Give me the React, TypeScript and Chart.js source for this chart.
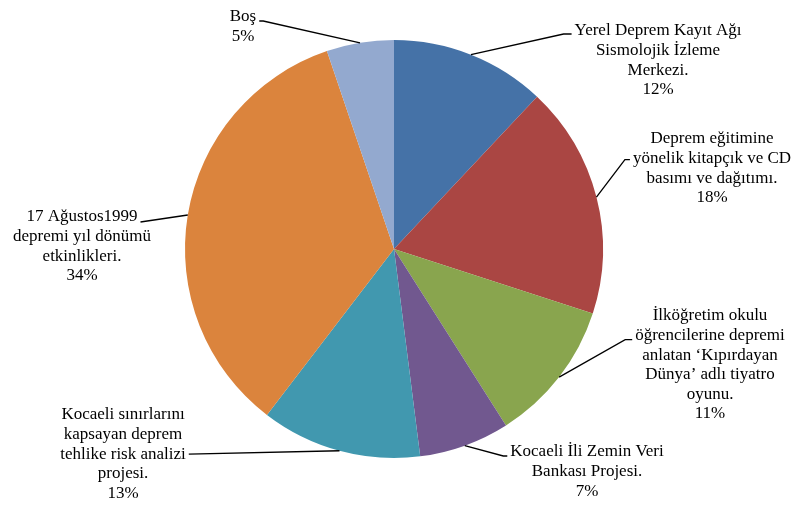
import React, { useEffect, useRef } from "react";
import { Chart, registerables } from "chart.js";

Chart.register(...registerables);

const categories: string[][] = [
  ["Yerel Deprem Kayıt Ağı", "Sismolojik İzleme", "Merkezi."],
  ["Deprem eğitimine", "yönelik kitapçık ve CD", "basımı ve dağıtımı."],
  ["İlköğretim okulu", "öğrencilerine depremi", "anlatan ‘Kıpırdayan", "Dünya’ adlı tiyatro", "oyunu."],
  ["Kocaeli İli Zemin Veri", "Bankası Projesi."],
  ["Kocaeli sınırlarını", "kapsayan deprem", "tehlike risk analizi", "projesi."],
  ["17 Ağustos1999", "depremi yıl dönümü", "etkinlikleri."],
  ["Boş"],
];
const values: number[] = [12, 18, 11, 7, 12.4, 34.4, 5.2];
const percentLabels: string[] = ["12%", "18%", "11%", "7%", "13%", "34%", "5%"];
const colors: string[] = ["#4572A7", "#AA4643", "#89A54E", "#71588F", "#4198AF", "#DB843D", "#93A9CF"];

// label layout: centre x, first-line middle y, line index the leader attaches to,
// side of text the leader reaches, vertical offset of leader, elbow length
const labelCx: number[] = [658, 712, 710, 587, 123, 82, 243];
const labelCy: number[] = [31, 139, 316, 452, 415, 217, 17];
const attachLine: number[] = [0, 1, 1, 0, 2, 0, 0];
const attachSide: string[] = ["left", "left", "left", "left", "right", "right", "right"];
const attachDy: number[] = [3, 1, 4, 4, 0, 5, 4];
const elbowLen: number[] = [8, 5, 7, 4, 0, 0, 4];

const LINE_H = 19.6;
const FONT = "17px 'Liberation Serif', 'Times New Roman', serif";

const labelPlugin = {
  id: "leaderLabels",
  afterDraw(chart: any) {
    const ctx = chart.ctx as CanvasRenderingContext2D;
    const meta = chart.getDatasetMeta(0);
    ctx.save();
    ctx.font = FONT;
    ctx.fillStyle = "#000";
    ctx.textAlign = "center";
    ctx.textBaseline = "middle";
    meta.data.forEach((arc: any, i: number) => {
      const p = arc.getProps(["x", "y", "startAngle", "endAngle", "outerRadius"], true);
      const mid = (p.startAngle + p.endAngle) / 2;
      const ax = p.x + Math.cos(mid) * p.outerRadius;
      const ay = p.y + Math.sin(mid) * p.outerRadius;
      const lines = [...categories[i], percentLabels[i]];
      lines.forEach((t, k) => {
        ctx.fillText(t, labelCx[i], labelCy[i] + k * LINE_H);
      });
      const k = attachLine[i];
      const w = ctx.measureText(lines[k]).width;
      const ly = labelCy[i] + k * LINE_H + attachDy[i];
      const gap = 3;
      let ex: number, bx: number;
      if (attachSide[i] === "left") {
        ex = labelCx[i] - w / 2 - gap;
        bx = ex - elbowLen[i];
      } else {
        ex = labelCx[i] + w / 2 + gap;
        bx = ex + elbowLen[i];
      }
      ctx.beginPath();
      ctx.strokeStyle = "#000";
      ctx.lineWidth = 1.3;
      ctx.moveTo(ax, ay);
      ctx.lineTo(bx, ly);
      ctx.lineTo(ex, ly);
      ctx.stroke();
    });
    ctx.restore();
  },
};

export default function App() {
  const ref = useRef<HTMLCanvasElement>(null);
  useEffect(() => {
    if (!ref.current) return;
    const chart = new Chart(ref.current, {
      type: "pie",
      data: {
        labels: categories.map((c) => c.join(" ")),
        datasets: [
          {
            data: values,
            backgroundColor: colors,
            borderWidth: 0,
            hoverOffset: 0,
            offset: 0,
          },
        ],
      },
      options: {
        responsive: false,
        animation: false,
        events: [],
        layout: { padding: { top: 40, bottom: 47, left: 185, right: 195 } },
        plugins: {
          legend: { display: false },
          tooltip: { enabled: false },
        },
      },
      plugins: [labelPlugin],
    });
    return () => chart.destroy();
  }, []);
  return (
    <div style={{ position: "fixed", left: 0, top: 0, width: 798, height: 505, background: "#fff" }}>
      <canvas ref={ref} width={798} height={505} style={{ display: "block" }} />
    </div>
  );
}
